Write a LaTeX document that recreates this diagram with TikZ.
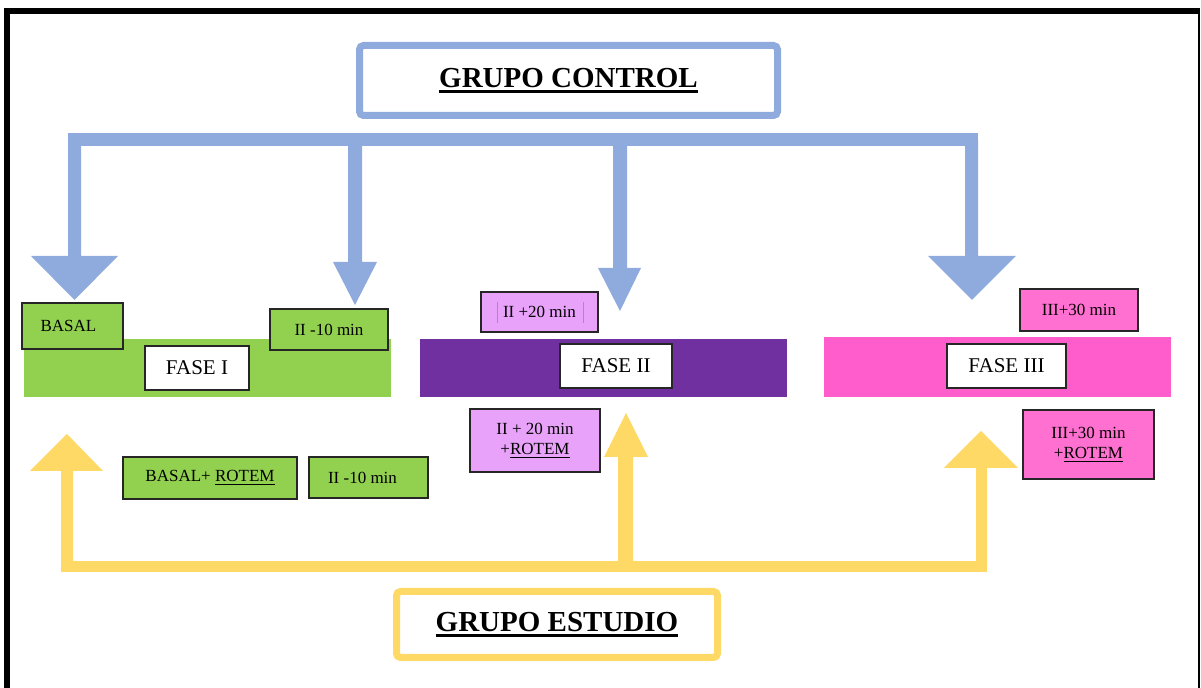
\documentclass[tikz,border=0pt]{standalone}
\usepackage{fontspec}
\setmainfont{Liberation Serif}
\definecolor{cblue}{HTML}{8FAADC}
\definecolor{cyel}{HTML}{FFD966}
\definecolor{cgreen}{HTML}{92D050}
\definecolor{cpurple}{HTML}{7030A0}
\definecolor{cpinkbar}{HTML}{FF5DCB}
\definecolor{cpink}{HTML}{FF70D0}
\definecolor{clilac}{HTML}{E9A2F9}
\newcommand\myThickUl[1]{\leavevmode\setbox0\hbox{#1}\rlap{\rule[-3pt]{\wd0}{1.3pt}}\box0}
\begin{document}
\begin{tikzpicture}[x=0.5pt,y=-0.5pt,
  dims/.style 2 args={minimum width=#1*0.5pt,minimum height=#2*0.5pt,inner sep=0pt},
  lbl/.style={draw=black!85,line width=0.75pt,align=center,font=\fontsize{8.5}{10}\selectfont},
  fase/.style={draw=black!85,fill=white,line width=0.75pt,font=\fontsize{10.5}{12}\selectfont},
  bar/.style={inner sep=0pt},
  title/.style={rounded corners=2pt,line width=3.5pt,fill=white,font=\fontsize{14.5}{16}\selectfont\bfseries}]
\useasboundingbox (0,0) rectangle (1201,688);
% frame
\fill[black] (4,8) rectangle (1199,14);
\fill[black] (4,8) rectangle (10,688);
\draw[black,line width=0.9pt] (1199,8) -- (1199,688);
% titles
\node[title,draw=cblue,dims={418}{70}] (ctrl) at (568.5,80.5) {\myThickUl{GRUPO CONTROL}};
\node[title,draw=cyel,dims={321}{66}] (est) at (557,624.5) {\myThickUl{GRUPO ESTUDIO}};
% blue distribution arrows
\fill[cblue] (68,133) rectangle (978,146);
\fill[cblue] (68,140)--(81,140)--(81,256)--(118,256)--(74.5,300)--(31,256)--(68,256)--cycle;
\fill[cblue] (348,140)--(362,140)--(362,262)--(377,262)--(355,305)--(333,262)--(348,262)--cycle;
\fill[cblue] (613,140)--(627,140)--(627,268)--(641,268)--(620,311)--(598,268)--(613,268)--cycle;
\fill[cblue] (965,140)--(978,140)--(978,256)--(1016,256)--(972,300)--(928,256)--(965,256)--cycle;
% yellow arrows
\fill[cyel] (61,561) rectangle (987,572);
\fill[cyel] (61,566)--(73,566)--(73,471)--(103,471)--(67,434)--(30,471)--(61,471)--cycle;
\fill[cyel] (618,566)--(633,566)--(633,457)--(648,457)--(626,413)--(604,457)--(618,457)--cycle;
\fill[cyel] (976,566)--(987,566)--(987,468)--(1018,468)--(981,431)--(944,468)--(976,468)--cycle;
% phase bars
\node[bar,fill=cgreen,dims={367}{58}] (bar1) at (207.5,368) {};
\node[bar,fill=cpurple,dims={367}{58}] (bar2) at (603.5,368) {};
\node[bar,fill=cpinkbar,dims={347}{60}] (bar3) at (997.5,367) {};
% phase labels
\node[fase,dims={104}{44}] (f1) at (197,368) {FASE I};
\node[fase,dims={112}{44}] (f2) at (616,366) {FASE II};
\node[fase,dims={119}{44}] (f3) at (1006.5,366) {FASE III};
% sample boxes
\node[lbl,fill=cgreen,dims={101}{46}] (basal) at (72.5,326) {BASAL\hspace*{4pt}};
\node[lbl,fill=cgreen,dims={118}{41}] (ii10a) at (329,329.5) {II -10 min};
\node[lbl,fill=cgreen,dims={174}{42}] (basalrot) at (210,478) {BASAL+ \underline{ROTEM}};
\node[lbl,fill=cgreen,dims={119}{41}] (ii10b) at (368.5,477.5) {II -10 min\hspace*{6pt}};
\node[lbl,fill=clilac,dims={117}{40}] (ii20) at (539.5,312) {II +20 min};
\draw[black!40,line width=0.3pt] (497,302) -- (497,323) (583,302) -- (583,323);
\node[lbl,fill=clilac,dims={130}{63}] (ii20rot) at (535,440.5) {II + 20 min\\+\underline{ROTEM}};
\node[lbl,fill=cpink,dims={118}{42}] (iii30) at (1079,310) {III+30 min};
\node[lbl,fill=cpink,dims={131}{69}] (iii30rot) at (1088.5,444.5) {III+30 min\\+\underline{ROTEM}};
\end{tikzpicture}
\end{document}
